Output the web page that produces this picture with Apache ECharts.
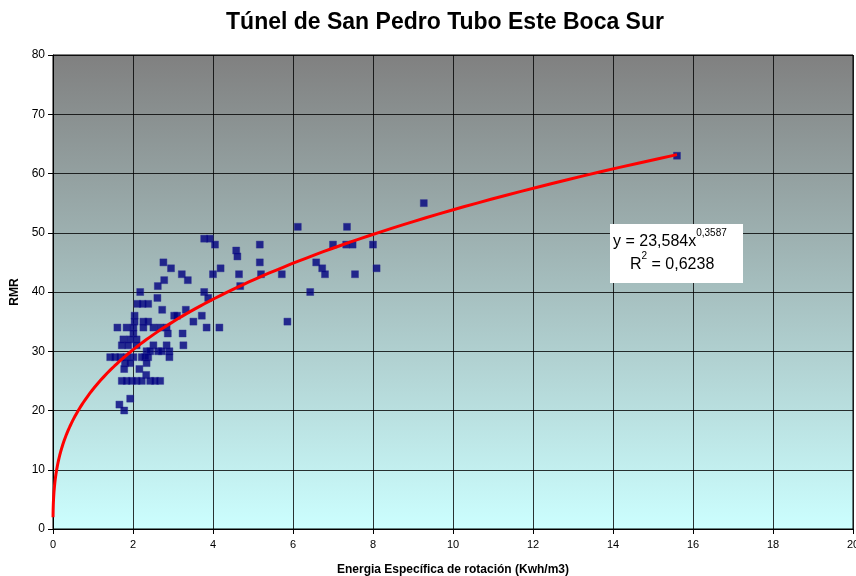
<!DOCTYPE html>
<html>
<head>
<meta charset="utf-8">
<script src="https://cdn.jsdelivr.net/npm/echarts@6/dist/echarts.min.js"></script>
<style>
html,body{margin:0;padding:0;background:#fff;}
#c{width:856px;height:576px;}
</style>
</head>
<body>
<div id="c"></div>
<script>
var title = 'Túnel de San Pedro Tubo Este Boca Sur';
var xName = 'Energia Específica de rotación (Kwh/m3)';
var yName = 'RMR';
var xTicks = [0, 2, 4, 6, 8, 10, 12, 14, 16, 18, 20];
var yTicks = [0, 10, 20, 30, 40, 50, 60, 70, 80];

var energy = [
  15.6, 9.27, 6.12, 7.35, 7.0, 7.33, 7.49, 8.0, 6.58, 6.73, 6.8, 7.55, 8.09, 6.43, 5.86, 5.72,
  3.78, 3.92, 4.05, 5.17, 4.58, 4.61, 5.17, 4.19, 2.95, 2.76, 3.22, 4.0, 4.65, 5.2, 3.37, 2.78,
  4.68, 2.62, 3.78, 2.18, 3.88, 2.61, 3.32, 2.73, 3.72, 3.03, 3.1, 3.51, 3.84, 4.16, 3.24, 3.26,
  2.87, 2.84, 2.91, 2.91, 2.68,
  2.11, 2.24, 2.38, 2.04, 2.04, 2.26, 2.38, 1.61, 1.84, 2.01, 2.26, 2.51, 2.68, 2.84, 2.01, 1.76,
  1.93, 2.09, 1.72, 1.88, 2.09, 2.51, 2.63, 2.34, 2.43, 2.72, 1.43, 1.55, 1.68, 1.84, 2.01, 2.22,
  2.3, 2.38, 2.34, 1.8, 1.93, 1.78, 2.16, 2.33, 1.72, 1.84, 1.97, 2.09, 2.22, 2.43, 2.55, 1.93,
  1.66, 1.78
];
var rmr = [
  63, 55, 51, 51, 48, 48, 48, 48, 45, 44, 43, 43, 44, 40, 35, 43,
  49, 49, 48, 48, 47, 46, 45, 44, 44, 45, 43, 43, 43, 43, 42, 42,
  41, 41, 40, 40, 39, 39, 37, 37, 36, 36, 36, 35, 34, 34, 33, 31,
  33, 31, 30, 29, 25,
  38, 38, 38, 36, 35, 35, 35, 34, 34, 34, 34, 34, 34, 34, 33, 32,
  32, 32, 31, 31, 31, 31, 30, 30, 30, 30, 29, 29, 29, 29, 29, 29,
  29, 29, 28, 28, 28, 27, 27, 26, 25, 25, 25, 25, 25, 25, 25, 22,
  21, 20
];

// Power trendline shown in the chart: y = a * x^b
var trendA = 23.584;
var trendB = 0.3587;
var trendXMin = 0.001;
var trendXMax = 15.6;
var eqText = 'y = 23,584x';
var eqExp = '0,3587';
var r2Text = '0,6238';

var points = energy.map(function (x, i) { return [x, rmr[i]]; });
var trend = [];
var nSteps = 300;
for (var i = 0; i <= nSteps; i++) {
  var t = i / nSteps;
  var x = trendXMin * Math.pow(trendXMax / trendXMin, t);
  trend.push([x, trendA * Math.pow(x, trendB)]);
}

var font = 'Liberation Sans, Arial, sans-serif';
var chart = echarts.init(document.getElementById('c'), null, {renderer: 'canvas'});
chart.setOption({
  animation: false,
  backgroundColor: '#ffffff',
  title: {
    text: title, left: 440, top: 6, textAlign: 'center',
    textStyle: {fontFamily: font, fontSize: 23, fontWeight: 'bold', color: '#000'}
  },
  grid: {
    left: 53, right: 3, top: 55, bottom: 47, show: true,
    outerBoundsMode: 'none', containLabel: false,
    borderColor: '#000', borderWidth: 1,
    backgroundColor: {
      type: 'linear', x: 0, y: 0, x2: 0, y2: 1,
      colorStops: [{offset: 0, color: '#808080'}, {offset: 1, color: '#ccffff'}]
    }
  },
  xAxis: {
    type: 'value', min: 0, max: 20, interval: 2,
    name: xName, nameLocation: 'middle', nameGap: 35,
    nameTextStyle: {fontFamily: font, fontSize: 12, fontWeight: 'bold', color: '#000'},
    axisLine: {show: true, lineStyle: {color: '#000', width: 1}},
    axisTick: {show: true, length: 5, lineStyle: {color: '#000'}},
    axisLabel: {fontFamily: font, fontSize: 11, color: '#000', margin: 10},
    splitLine: {show: true, lineStyle: {color: '#000', width: 1, opacity: 0.8}}
  },
  yAxis: {
    type: 'value', min: 0, max: 80, interval: 10,
    name: yName, nameLocation: 'middle', nameGap: 27, nameRotate: 90,
    nameTextStyle: {fontFamily: font, fontSize: 12, fontWeight: 'bold', color: '#000'},
    axisLine: {show: true, lineStyle: {color: '#000', width: 1}},
    axisTick: {show: true, length: 5, lineStyle: {color: '#000'}},
    axisLabel: {fontFamily: font, fontSize: 12, color: '#000', margin: 8},
    splitLine: {show: true, lineStyle: {color: '#000', width: 1, opacity: 0.8}}
  },
  series: [
    {
      type: 'scatter', data: points, symbol: 'rect', symbolSize: 7,
      itemStyle: {color: '#000080', borderColor: '#2a2a90', borderWidth: 0.5}, z: 2
    },
    {
      type: 'line', data: trend, showSymbol: false, smooth: false,
      lineStyle: {color: '#ff0000', width: 3}, z: 3
    }
  ],
  graphic: [
    {
      type: 'rect', left: 610, top: 224, z: 10,
      shape: {width: 133, height: 59}, style: {fill: '#ffffff'}
    },
    {
      type: 'text', left: 613, top: 228, z: 11,
      style: {
        text: '{m|' + eqText + '}{s|' + eqExp + '}',
        rich: {
          m: {fontFamily: font, fontSize: 16, fill: '#000', verticalAlign: 'bottom', lineHeight: 22},
          s: {fontFamily: font, fontSize: 10, fill: '#000', verticalAlign: 'top', lineHeight: 22, padding: [0,0,10,0]}
        }
      }
    },
    {
      type: 'text', left: 630, top: 251, z: 11,
      style: {
        text: '{m|R}{s|2}{m| = ' + r2Text + '}',
        rich: {
          m: {fontFamily: font, fontSize: 16, fill: '#000', verticalAlign: 'bottom', lineHeight: 22},
          s: {fontFamily: font, fontSize: 10, fill: '#000', verticalAlign: 'top', lineHeight: 22, padding: [0,0,10,0]}
        }
      }
    }
  ]
});
</script>
</body>
</html>
